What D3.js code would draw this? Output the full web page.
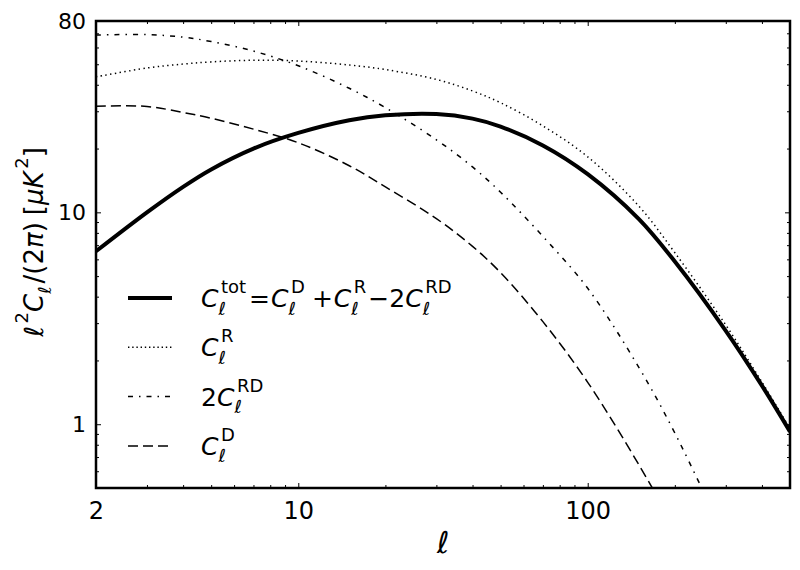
<!DOCTYPE html>
<html>
<head>
<meta charset="utf-8">
<script src="https://d3js.org/d3.v7.min.js"></script>
<style>
  body { margin: 0; background: #fff; }
  svg { display: block; }
</style>
</head>
<body>
<svg id="chart"></svg>
<script>
// multipole values
const ells = [2, 3, 4, 5, 7, 10, 15, 20, 30, 40, 50, 70, 100, 150, 200, 300, 400, 500];
const clTot = [6.55, 10.0, 13.2, 15.95, 20.0, 23.7, 27.2, 28.7, 29.1, 27.7, 25.4, 20.7, 15.15, 9.32, 5.86, 2.76, 1.52, 0.922];
const clR = [43.6, 48.0, 50.1, 51.3, 52.2, 51.8, 49.6, 47.2, 42.4, 37.4, 32.9, 25.6, 18.28, 10.72, 6.45, 2.94, 1.58, 0.954];
const clRD2 = [68.7, 69.0, 67.1, 64.0, 57.7, 49.2, 38.5, 31.2, 22.0, 16.38, 12.44, 7.7, 4.38, 1.86, 0.909, 0.287, null, null];
const clD = [31.7, 31.6, 29.6, 27.8, 24.7, 21.3, 16.6, 13.18, 9.34, 6.91, 5.19, 3.05, 1.577, 0.646, 0.324, null, null, null];

const xTicks = [2, 10, 100];
const yTicks = [1, 10, 80];

const width = 800, height = 570;
const margin = { left: 96, right: 10, top: 21, bottom: 82 };
const SANS = '"DejaVu Sans", sans-serif';

const svg = d3.select('#chart').attr('width', width).attr('height', height);

const x = d3.scaleLog().domain([2, 500]).range([margin.left, width - margin.right]);
const y = d3.scaleLog().domain([0.5, 80]).range([height - margin.bottom, margin.top]);

const x0 = x.range()[0], x1 = x.range()[1];
const yb = y.range()[0], yt = y.range()[1];

svg.append('defs').append('clipPath').attr('id', 'plotclip')
  .append('rect').attr('x', x0).attr('y', yt).attr('width', x1 - x0).attr('height', yb - yt);

// curves
const series = [
  { vals: clD, width: 1.5, dash: '10,5' },
  { vals: clRD2, width: 1.5, dash: '5,6,1.5,6' },
  { vals: clR, width: 1.5, dash: '1.4,3.4' },
  { vals: clTot, width: 4, dash: null }
];

const line = d3.line()
  .defined(d => d[1] != null)
  .x(d => x(d[0]))
  .y(d => y(d[1]))
  .curve(d3.curveCatmullRom.alpha(0.5));

const plot = svg.append('g').attr('clip-path', 'url(#plotclip)');
series.forEach(s => {
  plot.append('path')
    .datum(ells.map((l, i) => [l, s.vals[i]]))
    .attr('d', line)
    .attr('fill', 'none')
    .attr('stroke', '#000')
    .attr('stroke-width', s.width)
    .attr('stroke-dasharray', s.dash);
});

// axes, ticks pointing inward
const minorX = x.ticks().filter(v => !xTicks.includes(v));
const minorY = y.ticks().filter(v => !yTicks.includes(v));

function styleAxis(g) {
  g.select('.domain').remove();
  g.selectAll('.tick line').attr('stroke', '#000').attr('stroke-width', 1);
  g.selectAll('text').style('font-family', SANS).attr('fill', '#000');
}

svg.append('g').attr('transform', `translate(0,${yb})`)
  .call(d3.axisBottom(x).tickValues(xTicks).tickSize(-5).tickPadding(14).tickFormat(d3.format('d')))
  .call(styleAxis)
  .selectAll('text').style('font-size', '24px');
svg.append('g').attr('transform', `translate(0,${yb})`)
  .call(d3.axisBottom(x).tickValues(minorX).tickSize(-3).tickFormat(''))
  .call(styleAxis);
svg.append('g').attr('transform', `translate(0,${yt})`)
  .call(d3.axisTop(x).tickValues(xTicks).tickSize(-5).tickFormat(''))
  .call(styleAxis);
svg.append('g').attr('transform', `translate(0,${yt})`)
  .call(d3.axisTop(x).tickValues(minorX).tickSize(-3).tickFormat(''))
  .call(styleAxis);

svg.append('g').attr('transform', `translate(${x0},0)`)
  .call(d3.axisLeft(y).tickValues(yTicks).tickSize(-5).tickPadding(10).tickFormat(d3.format('d')))
  .call(styleAxis)
  .selectAll('text').style('font-size', '22px');
svg.append('g').attr('transform', `translate(${x0},0)`)
  .call(d3.axisLeft(y).tickValues(minorY).tickSize(-3).tickFormat(''))
  .call(styleAxis);
svg.append('g').attr('transform', `translate(${x1},0)`)
  .call(d3.axisRight(y).tickValues(yTicks).tickSize(-5).tickFormat(''))
  .call(styleAxis);
svg.append('g').attr('transform', `translate(${x1},0)`)
  .call(d3.axisRight(y).tickValues(minorY).tickSize(-3).tickFormat(''))
  .call(styleAxis);

svg.append('rect')
  .attr('x', x0).attr('y', yt).attr('width', x1 - x0).attr('height', yb - yt)
  .attr('fill', 'none').attr('stroke', '#000').attr('stroke-width', 2.5);

// little mathtext helper: base glyph with optional sub/superscript stacked
function mathText(g, x, y, tokens, size) {
  const small = Math.round(size * 0.7);
  let cx = x;
  tokens.forEach(tk => {
    if (tk.gap != null) { cx += tk.gap; return; }
    const t = g.append('text').attr('x', cx).attr('y', y)
      .style('font-family', SANS).style('font-size', size + 'px')
      .style('font-style', tk.it ? 'italic' : 'normal')
      .text(tk.b);
    const w = t.node().getComputedTextLength();
    let end = cx + w;
    if (tk.sub) {
      const s = g.append('text').attr('x', cx + w).attr('y', y + size * 0.3)
        .style('font-family', SANS).style('font-size', small + 'px').style('font-style', 'italic')
        .text(tk.sub);
      end = Math.max(end, cx + w + s.node().getComputedTextLength());
    }
    if (tk.sup) {
      const s = g.append('text').attr('x', cx + w + size * 0.1).attr('y', y - size * 0.56)
        .style('font-family', SANS).style('font-size', small + 'px')
        .text(tk.sup);
      end = Math.max(end, cx + w + size * 0.1 + s.node().getComputedTextLength());
    }
    cx = end;
  });
  return cx - x;
}

// legend
const legendRows = [
  { width: 4, dash: null, tokens: [
    { b: 'C', it: true, sub: 'ℓ', sup: 'tot' }, { gap: 3 }, { b: '=' }, { gap: 1 },
    { b: 'C', it: true, sub: 'ℓ', sup: 'D' }, { gap: 7 }, { b: '+' }, { gap: 1 },
    { b: 'C', it: true, sub: 'ℓ', sup: 'R' }, { gap: 2 }, { b: '−2' },
    { b: 'C', it: true, sub: 'ℓ', sup: 'RD' }] },
  { width: 1.5, dash: '1.4,2.8', tokens: [{ b: 'C', it: true, sub: 'ℓ', sup: 'R' }] },
  { width: 1.5, dash: '5,6,1.5,6', tokens: [{ b: '2' }, { b: 'C', it: true, sub: 'ℓ', sup: 'RD' }] },
  { width: 1.5, dash: '10,5', tokens: [{ b: 'C', it: true, sub: 'ℓ', sup: 'D' }] }
];

const legend = svg.append('g');
legendRows.forEach((r, i) => {
  const ly = 298 + i * 49.3;
  legend.append('line')
    .attr('x1', 128).attr('x2', 172).attr('y1', ly).attr('y2', ly)
    .attr('stroke', '#000').attr('stroke-width', r.width).attr('stroke-dasharray', r.dash);
  mathText(legend, 201, ly + 9, r.tokens, 25);
});

// axis labels
svg.append('text')
  .attr('x', (x0 + x1) / 2).attr('y', 553)
  .attr('text-anchor', 'middle')
  .style('font-family', SANS).style('font-size', '30px').style('font-style', 'italic')
  .text('ℓ');

const yl = svg.append('g').attr('transform', 'translate(43,242) rotate(-90)');
const ylInner = yl.append('g');
const ylW = mathText(ylInner, 0, 0, [
  { b: 'ℓ', it: true, sup: '2' }, { b: 'C', it: true, sub: 'ℓ' }, { gap: 3 },
  { b: '/(2' }, { b: 'π', it: true }, { b: ')' }, { gap: 7 },
  { b: '[' }, { b: 'μ', it: true }, { b: 'K', it: true, sup: '2' }, { b: ']' }
], 26);
ylInner.attr('transform', `translate(${-ylW / 2},0)`);
</script>
</body>
</html>
